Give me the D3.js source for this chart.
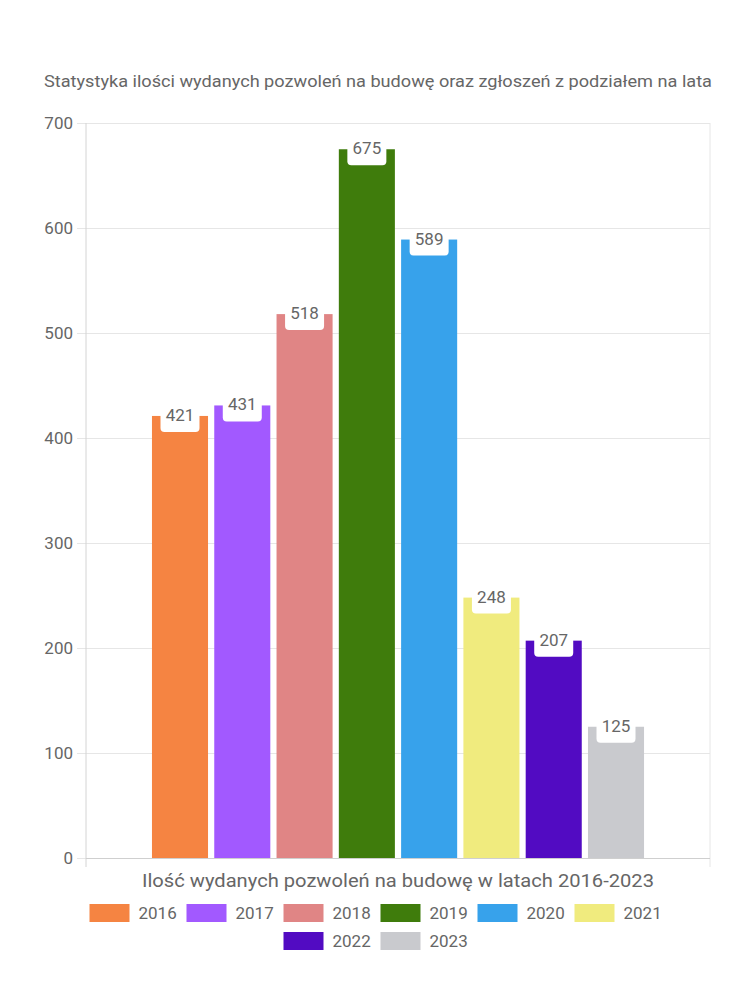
<!DOCTYPE html>
<html>
<head>
<meta charset="utf-8">
<script src="https://cdn.jsdelivr.net/npm/d3@7"></script>
<style>
  html, body { margin: 0; padding: 0; background: #fff; }
  svg { display: block; font-family: Roboto, "Noto Sans", sans-serif; }
</style>
</head>
<body>
<svg id="chart" width="750" height="1000"></svg>
<script>
const titleText = "Statystyka ilości wydanych pozwoleń na budowę oraz zgłoszeń z podziałem na lata";
const categories = ["Ilość wydanych pozwoleń na budowę w latach 2016-2023"];
const seriesNames = ["2016", "2017", "2018", "2019", "2020", "2021", "2022", "2023"];
const seriesValues = [421, 431, 518, 675, 589, 248, 207, 125];
const seriesColors = ["#F58442", "#A259FF", "#E08585", "#3F7C0C", "#37A2EB", "#F0EB7E", "#520BC2", "#C9CACE"];
const yTicks = [0, 100, 200, 300, 400, 500, 600, 700];

const svg = d3.select("#chart");
const textColor = "#666";

const plot = { left: 86, right: 710, top: 123, bottom: 858 };

const x0 = d3.scaleBand().domain(categories).range([plot.left, plot.right]).padding(0.112);
const x1 = d3.scaleBand().domain(seriesNames).range([0, x0.bandwidth()]).paddingInner(0.1).paddingOuter(0.05);
const y = d3.scaleLinear().domain([0, 700]).range([plot.bottom, plot.top]);

// Title
svg.append("text")
  .attr("x", 378).attr("y", 87)
  .attr("text-anchor", "middle")
  .attr("fill", textColor)
  .attr("font-size", 16)
  .attr("textLength", 668)
  .attr("lengthAdjust", "spacingAndGlyphs")
  .text(titleText);

// Grid lines + y labels
const yAxis = d3.axisLeft(y).tickValues(yTicks).tickSize(plot.right - plot.left + 9).tickPadding(4);
const gy = svg.append("g").attr("transform", `translate(${plot.right},0)`).call(yAxis);
gy.select(".domain").remove();
gy.selectAll(".tick line").attr("stroke", "#e6e6e6");
gy.selectAll(".tick text").attr("fill", textColor).attr("font-size", 17).attr("font-family", "Roboto, sans-serif");

// Vertical border lines
svg.append("line").attr("x1", plot.left).attr("x2", plot.left).attr("y1", plot.top).attr("y2", plot.bottom + 9)
  .attr("stroke", "#d4d4d4");
svg.append("line").attr("x1", plot.right).attr("x2", plot.right).attr("y1", plot.top).attr("y2", plot.bottom + 9)
  .attr("stroke", "#e6e6e6");

// Bars
const data = seriesNames.map((s, i) => ({ name: s, value: seriesValues[i], color: seriesColors[i] }));
const g = svg.append("g").attr("transform", `translate(${x0(categories[0])},0)`);
g.selectAll("rect.bar").data(data).enter().append("rect")
  .attr("class", "bar")
  .attr("x", d => x1(d.name))
  .attr("y", d => y(d.value))
  .attr("width", x1.bandwidth())
  .attr("height", d => y(0) - y(d.value))
  .attr("fill", d => d.color);

// Bottom axis line
svg.append("line").attr("x1", plot.left).attr("x2", plot.right).attr("y1", plot.bottom + 0.5).attr("y2", plot.bottom + 0.5)
  .attr("stroke", "#cfcfcf");

// Value labels with white tab
const boxW = 39, boxH = 16, r = 4;
const lab = g.selectAll("g.lab").data(data).enter().append("g")
  .attr("class", "lab")
  .attr("transform", d => `translate(${x1(d.name) + x1.bandwidth() / 2},${y(d.value)})`);
lab.append("path")
  .attr("d", `M${-boxW/2},-1 L${boxW/2},-1 L${boxW/2},${boxH - r} Q${boxW/2},${boxH} ${boxW/2 - r},${boxH} L${-boxW/2 + r},${boxH} Q${-boxW/2},${boxH} ${-boxW/2},${boxH - r} Z`)
  .attr("fill", "#fff");
lab.append("text")
  .attr("text-anchor", "middle")
  .attr("dominant-baseline", "central")
  .attr("y", -1)
  .attr("fill", textColor)
  .attr("font-size", 17)
  .text(d => d.value);

// X axis category label
svg.append("text")
  .attr("x", x0(categories[0]) + x0.bandwidth() / 2).attr("y", 887)
  .attr("text-anchor", "middle")
  .attr("fill", textColor)
  .attr("font-size", 18)
  .attr("textLength", 512)
  .attr("lengthAdjust", "spacingAndGlyphs")
  .text(categories[0]);

// Legend
const rows = [seriesNames.slice(0, 6), seriesNames.slice(6)];
const itemStep = 97, swW = 40, swH = 18;
rows.forEach((row, ri) => {
  const totalW = row.length * itemStep - 11;
  const startX = 375 - totalW / 2;
  const cy = 913 + ri * 28;
  row.forEach((name, i) => {
    const idx = seriesNames.indexOf(name);
    const gx = startX + i * itemStep;
    svg.append("rect").attr("x", gx).attr("y", cy - swH / 2).attr("width", swW).attr("height", swH)
      .attr("fill", seriesColors[idx]);
    svg.append("text").attr("x", gx + swW + 9).attr("y", cy)
      .attr("dominant-baseline", "central")
      .attr("fill", textColor).attr("font-size", 17)
      .text(name);
  });
});
</script>
</body>
</html>
